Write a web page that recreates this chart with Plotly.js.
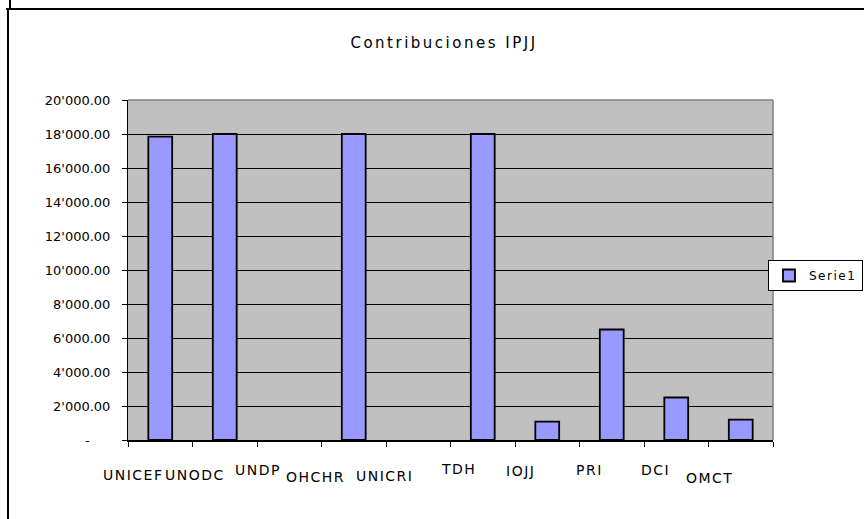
<!DOCTYPE html>
<html>
<head>
<meta charset="utf-8">
<script src="https://cdn.plot.ly/plotly-3.0.1.min.js"></script>
<style>
  html, body { margin: 0; padding: 0; background: #ffffff; }
  #chart { width: 864px; height: 519px; }
</style>
</head>
<body>
<div id="chart"></div>
<script>
// ---- data ----
const chartTitle = 'Contribuciones IPJJ';
const seriesName = 'Serie1';
const categories = ['UNICEF', 'UNODC', 'UNDP', 'OHCHR', 'UNICRI', 'TDH', 'IOJJ', 'PRI', 'DCI', 'OMCT'];
const contributions = [17850, 18000, null, 18000, null, 18000, 1080, 6500, 2500, 1200];
const yTickValues = [0, 2000, 4000, 6000, 8000, 10000, 12000, 14000, 16000, 18000, 20000];

// ---- label formatting (Excel accounting style: thousands "'" and "-" for zero) ----
function fmtTick(v) {
  if (v === 0) return '-\u00a0\u00a0\u00a0\u00a0\u00a0';
  return v.toLocaleString('en-US', { minimumFractionDigits: 2, maximumFractionDigits: 2 }).replace(/,/g, "'");
}
const yTickText = yTickValues.map(fmtTick);
const spaced = (t, s) => '<span style="letter-spacing:' + s + 'px">' + t + '</span>';

// ---- layout geometry (pixels) ----
const W = 864, H = 519;
const PL = 128, PR = 773, PT = 100, PB = 440;
const px = x => (x - PL) / (PR - PL);
const py = y => (PB - y) / (PB - PT);

// Category label placement offsets (style only), mimicking the staggered Excel labels
const labelDx = [-27, -30, -31, -38, -34, -24, -27, -22, -21, -31];
const labelY  = [475, 475, 470, 477, 476, 469, 471, 470, 470, 478];

const FONT = 'DejaVu Sans, Arial, sans-serif';

const trace = {
  type: 'bar',
  name: spaced(seriesName, 1.5),
  x: categories,
  y: contributions,
  marker: { color: '#9999FF', line: { color: '#000000', width: 1.8 } },
  showlegend: true,
  hoverinfo: 'x+y'
};

const annotations = categories.map((c, i) => ({
  x: c, xref: 'x',
  y: py(labelY[i]), yref: 'paper',
  xshift: labelDx[i],
  text: spaced(c, 1.5),
  showarrow: false,
  xanchor: 'center', yanchor: 'middle',
  font: { family: FONT, size: 14, color: '#000000' }
}));

const shapes = [
  // outer chart frame
  { type: 'line', xref: 'paper', yref: 'paper', x0: px(6), x1: px(870), y0: py(9), y1: py(9), line: { color: '#000', width: 2 } },
  { type: 'line', xref: 'paper', yref: 'paper', x0: px(8), x1: px(8), y0: py(9), y1: py(525), line: { color: '#000', width: 2 } },
  { type: 'line', xref: 'paper', yref: 'paper', x0: px(10), x1: px(10), y0: py(-2), y1: py(9), line: { color: '#000', width: 2 } },
  // plot area border (top and right, gray)
  { type: 'line', xref: 'paper', yref: 'paper', x0: 0, x1: 1, y0: 1, y1: 1, line: { color: '#808080', width: 1.5 }, layer: 'above' },
  { type: 'line', xref: 'paper', yref: 'paper', x0: 1, x1: 1, y0: 0, y1: 1, line: { color: '#808080', width: 1.5 }, layer: 'above' }
];

const layout = {
  width: W, height: H,
  autosize: false,
  paper_bgcolor: '#ffffff',
  plot_bgcolor: '#C0C0C0',
  margin: { l: PL, r: W - PR, t: PT, b: H - PB, autoexpand: false },
  font: { family: FONT, color: '#000000' },
  title: {
    text: spaced(chartTitle, 2.5),
    x: 444 / W, xref: 'container', xanchor: 'center',
    y: 1 - 43 / H, yref: 'container', yanchor: 'middle',
    font: { family: FONT, size: 15, color: '#000000' }
  },
  bargap: 0.63,
  xaxis: {
    type: 'category',
    range: [-0.5, categories.length - 0.5],
    autorange: false,
    showticklabels: false,
    ticks: 'outside',
    tickson: 'boundaries',
    ticklen: 5,
    tickcolor: '#000000',
    showline: true,
    linecolor: '#000000',
    linewidth: 1.5,
    showgrid: false,
    zeroline: false,
    fixedrange: true
  },
  yaxis: {
    range: [0, 20000],
    autorange: false,
    tickvals: yTickValues,
    ticktext: yTickText,
    ticks: 'outside',
    ticklen: 5,
    tickcolor: '#000000',
    ticklabelstandoff: 9,
    tickfont: { family: FONT, size: 13, color: '#000000' },
    showline: true,
    linecolor: '#000000',
    linewidth: 1,
    showgrid: true,
    gridcolor: '#000000',
    gridwidth: 1,
    zeroline: false,
    fixedrange: true
  },
  legend: {
    x: px(863), xanchor: 'right',
    y: py(260), yanchor: 'top',
    xref: 'paper', yref: 'paper',
    bgcolor: '#ffffff',
    bordercolor: '#000000',
    borderwidth: 1,
    font: { family: FONT, size: 12, color: '#000000' }
  },
  annotations: annotations,
  shapes: shapes
};

Plotly.newPlot('chart', [trace], layout, { displayModeBar: false, staticPlot: true });
</script>
</body>
</html>
